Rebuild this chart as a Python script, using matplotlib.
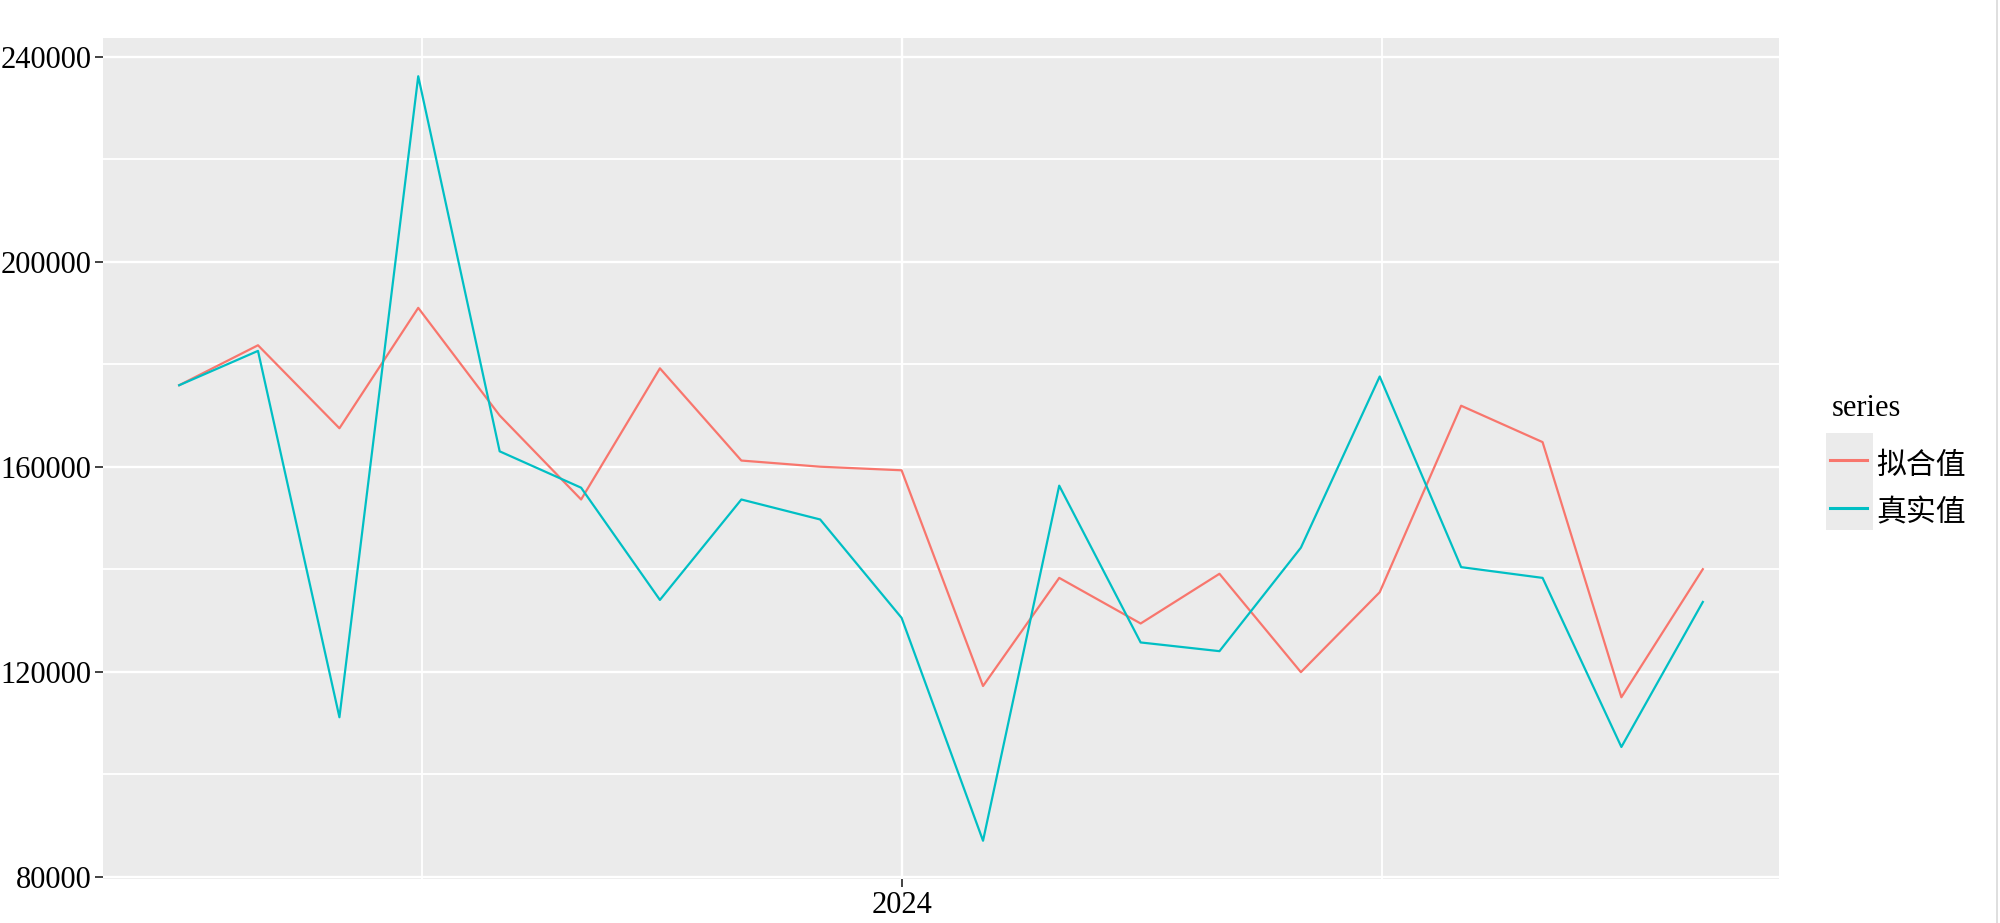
import numpy as np
import pandas as pd
import matplotlib
matplotlib.use("Agg")
import matplotlib.pyplot as plt
import matplotlib.dates as mdates
from matplotlib.patches import Rectangle
from matplotlib.lines import Line2D

# monthly series, Apr 2023 - Nov 2024
dates = pd.date_range("2023-04-01", periods=20, freq="MS")
fitted = [175900, 183700, 167500, 191000, 170000, 153600, 179200, 161200, 160000, 159300,
          117200, 138300, 129400, 139100, 119900, 135500, 171900, 164800, 115000, 140000]
actual = [175900, 182600, 111100, 236200, 163000, 155900, 134000, 153600, 149700, 130500,
          87000, 156300, 125700, 124000, 144200, 177600, 140400, 138300, 105300, 133600]
series_names = ["拟合值", "真实值"]
series_colors = ["#F8766D", "#00BFC4"]

plt.rcParams["font.family"] = ["Liberation Serif", "Noto Sans CJK SC"]
FS = 22
W, H = 2000, 923

fig = plt.figure(figsize=(20, 9.23), dpi=100)
ax = fig.add_axes([0.0515, 0.0477, 0.838, 0.9111])
ax.set_facecolor("#EBEBEB")

x = mdates.date2num(dates)
for vals, name, col in zip([fitted, actual], series_names, series_colors):
    ax.plot(x, vals, color=col, lw=1.6, label=name, zorder=3)

# ggplot-like 5% expansion
xr = x.max() - x.min()
ax.set_xlim(x.min() - 0.05 * xr, x.max() + 0.05 * xr)
allv = np.array(fitted + actual)
yr = allv.max() - allv.min()
ax.set_ylim(allv.min() - 0.05 * yr, allv.max() + 0.05 * yr)

ax.xaxis.set_major_locator(mdates.YearLocator())
ax.xaxis.set_major_formatter(mdates.DateFormatter("%Y"))
years = [mdates.date2num(pd.Timestamp(f"{y}-01-01")) for y in (2023, 2024, 2025)]
ax.set_xticks([(a + b) / 2 for a, b in zip(years[:-1], years[1:])], minor=True)

yt = np.arange(80000, 240001, 40000)
ax.set_yticks(yt)
ax.set_yticklabels([str(v) for v in yt])
ax.set_yticks(yt[:-1] + 20000, minor=True)

ax.grid(which="major", color="white", lw=1.7)
ax.grid(which="minor", color="white", lw=1.3)
ax.set_axisbelow(True)
for s in ax.spines.values():
    s.set_visible(False)
ax.tick_params(which="major", length=5.5, width=1.3, color="#333333",
               labelsize=FS, labelcolor="black", pad=3)
ax.tick_params(which="minor", length=0)

# legend (ggplot style: title, grey key box, lines + labels)
fig.add_artist(Rectangle((1826 / W, 1 - 530 / H), 47 / W, 97 / H,
                         transform=fig.transFigure, facecolor="#EBEBEB",
                         edgecolor="none", zorder=0))
fig.text(1832 / W, 1 - 408 / H, "series", fontsize=FS, va="center", ha="left")
for i, (name, col) in enumerate(zip(series_names, series_colors)):
    ky = 1 - (460 + 48 * i) / H
    fig.add_artist(Line2D([1830 / W, 1867 / W], [ky, ky], color=col, lw=2.2,
                          transform=fig.transFigure))
    fig.text(1876 / W, ky - 5 / H, name, fontsize=21.5, va="center", ha="left",
             family=["Noto Sans CJK SC", "Liberation Serif"])

# faint border line at right edge of the original image
fig.add_artist(Line2D([1997 / W, 1997 / W], [0, 1], color="#D9D9D9", lw=1.2,
                      transform=fig.transFigure))

fig.savefig("out.png", dpi=100)
